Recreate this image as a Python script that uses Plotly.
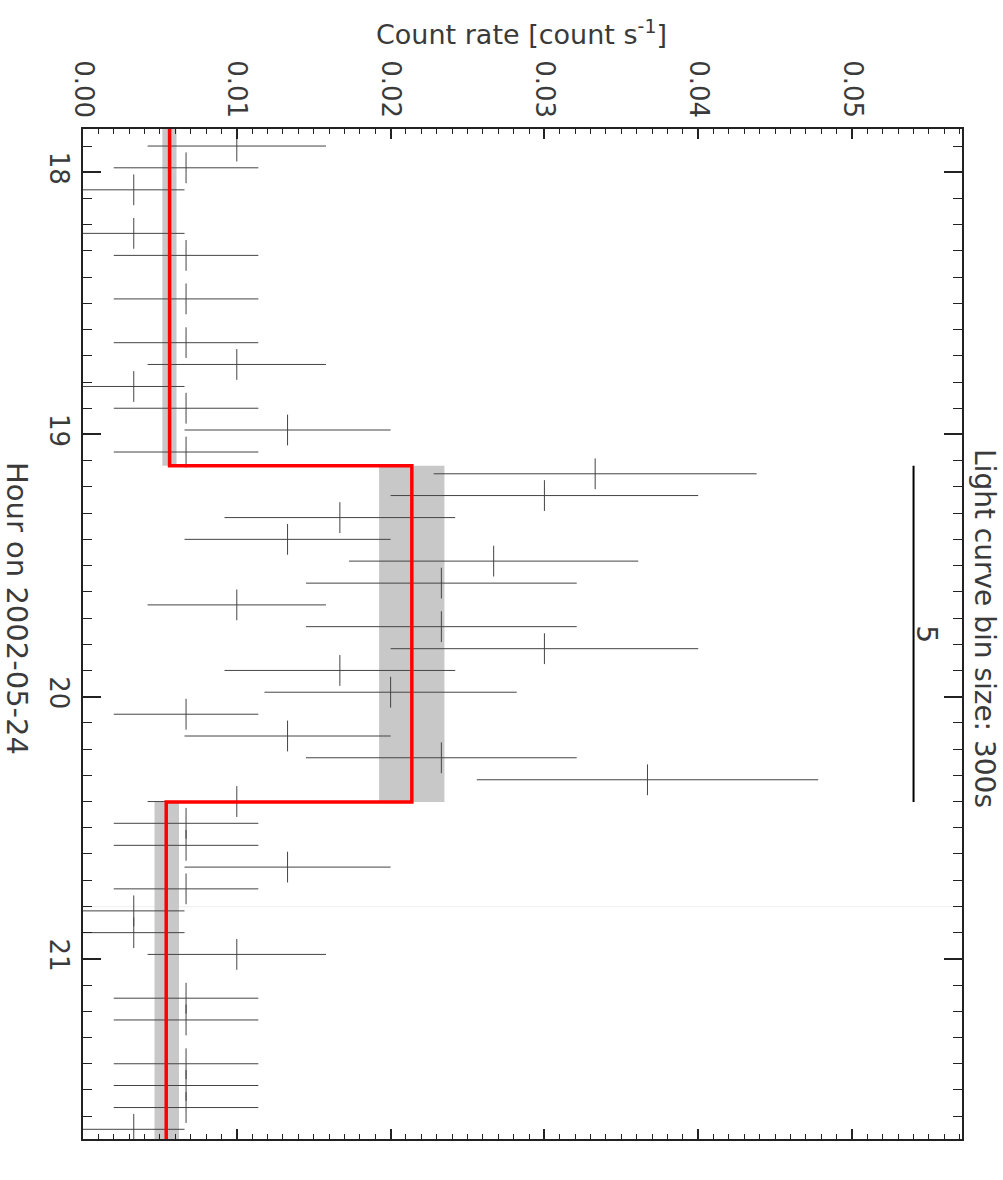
import plotly.graph_objects as go

# ---- data ----
bin_time = [17.900, 17.983, 18.067, 18.233, 18.317, 18.483, 18.650, 18.733, 18.817, 18.900,
            18.983, 19.067, 19.150, 19.233, 19.317, 19.400, 19.483, 19.567, 19.650, 19.733,
            19.817, 19.900, 19.983, 20.067, 20.150, 20.233, 20.317, 20.400, 20.483, 20.567,
            20.650, 20.733, 20.817, 20.900, 20.983, 21.150, 21.233, 21.400, 21.483, 21.567,
            21.650]
rate = [0.0100, 0.0067, 0.0033, 0.0033, 0.0067, 0.0067, 0.0067, 0.0100, 0.0033, 0.0067,
        0.0133, 0.0067, 0.0333, 0.0300, 0.0167, 0.0133, 0.0267, 0.0233, 0.0100, 0.0233,
        0.0300, 0.0167, 0.0200, 0.0067, 0.0133, 0.0233, 0.0367, 0.0100, 0.0067, 0.0067,
        0.0133, 0.0067, 0.0033, 0.0033, 0.0100, 0.0067, 0.0067, 0.0067, 0.0067, 0.0067,
        0.0033]
rate_err = [0.0058, 0.0047, 0.0033, 0.0033, 0.0047, 0.0047, 0.0047, 0.0058, 0.0033, 0.0047,
            0.0067, 0.0047, 0.0105, 0.0100, 0.0075, 0.0067, 0.0094, 0.0088, 0.0058, 0.0088,
            0.0100, 0.0075, 0.0082, 0.0047, 0.0067, 0.0088, 0.0111, 0.0058, 0.0047, 0.0047,
            0.0067, 0.0047, 0.0033, 0.0033, 0.0058, 0.0047, 0.0047, 0.0047, 0.0047, 0.0047,
            0.0033]

block_start = [17.835, 19.119, 20.402]
block_end = [19.119, 20.402, 21.687]
block_rate = [0.00563, 0.02138, 0.00541]
block_lo = [0.00516, 0.01925, 0.00465]
block_hi = [0.00608, 0.02350, 0.00624]

time_range = [21.687, 17.835]
rate_range = [0.0, 0.05715]
rate_ticks = [0, 0.01, 0.02, 0.03, 0.04, 0.05]
rate_tick_text = ["0.00", "0.01", "0.02", "0.03", "0.04", "0.05"]
hour_ticks = [18, 19, 20, 21]
hour_tick_text = ["18", "19", "20", "21"]
scale_bar_rate = 0.0540
scale_label = "5"
marker_hour = 20.801

FONT = "DejaVu Sans"
TXT = "#3a3a3a"

W, H = 1003, 1180
ML, MR, MT, MB = 83, 41, 129, 41
PW, PH = W - ML - MR, H - MT - MB


def px_x(px):
    return (px - ML) / PW


def px_y(py):
    return (H - MB - py) / PH


fig = go.Figure()

# grey uncertainty bands of blocks
for s, e, lo, hi in zip(block_start, block_end, block_lo, block_hi):
    fig.add_shape(type="rect", xref="x", yref="y", x0=lo, x1=hi, y0=s, y1=e,
                  fillcolor="#c8c8c8", line=dict(width=0), layer="below")

# faint reference line
fig.add_shape(type="line", xref="paper", yref="y", x0=0, x1=1, y0=marker_hour, y1=marker_hour,
              line=dict(color="#eeeeee", width=1), layer="below")

# light-curve points
fig.add_trace(go.Scatter(
    x=rate, y=bin_time, mode="markers",
    marker=dict(symbol="line-ns", size=22, line=dict(color="#444444", width=1), color="#444444"),
    error_x=dict(type="data", array=rate_err, visible=True, width=0, thickness=1, color="#444444"),
    showlegend=False, hoverinfo="skip"))

# red Bayesian-block step line
sx, sy = [], []
for s, e, r in zip(block_start, block_end, block_rate):
    sx += [r, r]
    sy += [s, e]
fig.add_trace(go.Scatter(x=sx, y=sy, mode="lines", line=dict(color="#ff0000", width=3.5),
                         showlegend=False, hoverinfo="skip"))

# scale bar
fig.add_trace(go.Scatter(x=[scale_bar_rate, scale_bar_rate], y=[block_start[1], block_end[1]],
                         mode="lines", line=dict(color="#000000", width=2),
                         showlegend=False, hoverinfo="skip"))
fig.add_annotation(x=scale_bar_rate, y=(block_start[1] + block_end[1]) / 2, xref="x", yref="y",
                   text=scale_label, showarrow=False, textangle=90, xshift=13,
                   xanchor="center", yanchor="middle",
                   font=dict(family=FONT, size=28, color=TXT))

fig.add_annotation(x=px_x(985), y=px_y(628), xref="paper", yref="paper",
                   text="Light curve bin size: 300s", showarrow=False, textangle=90,
                   xanchor="center", yanchor="middle",
                   font=dict(family=FONT, size=28, color=TXT))
fig.add_annotation(x=px_x(17), y=px_y(608), xref="paper", yref="paper",
                   text="Hour on 2002-05-24", showarrow=False, textangle=90,
                   xanchor="center", yanchor="middle",
                   font=dict(family=FONT, size=29, color=TXT))
fig.add_annotation(x=px_x(521), y=px_y(33), xref="paper", yref="paper",
                   xanchor="center", yanchor="middle",
                   text="Count rate [count s<sup>-1</sup>]", showarrow=False,
                   font=dict(family=FONT, size=27, color=TXT))

axis_common = dict(showgrid=False, zeroline=False, showline=True, linecolor="#222222",
                   linewidth=1.5, ticks="inside", mirror="ticks", tickcolor="#222222",
                   tickfont=dict(family=FONT, size=26, color=TXT))

fig.update_xaxes(range=rate_range, side="top", tickmode="array",
                 tickvals=rate_ticks, ticktext=rate_tick_text,
                 tickangle=90, ticklen=10, tickwidth=1.5,
                 minor=dict(dtick=0.001, ticks="inside", ticklen=5, tickcolor="#222222", tickwidth=1),
                 **axis_common)
fig.update_yaxes(range=time_range, tickmode="array", tickvals=hour_ticks,
                 ticktext=hour_tick_text, tickangle=90, ticklen=18, tickwidth=1.5,
                 minor=dict(dtick=0.1, tick0=18, ticks="inside", ticklen=9, tickcolor="#222222", tickwidth=1),
                 **axis_common)

fig.update_layout(width=W, height=H, margin=dict(l=ML, r=MR, t=MT, b=MB),
                  paper_bgcolor="white", plot_bgcolor="white")

fig.write_html("out.html")
